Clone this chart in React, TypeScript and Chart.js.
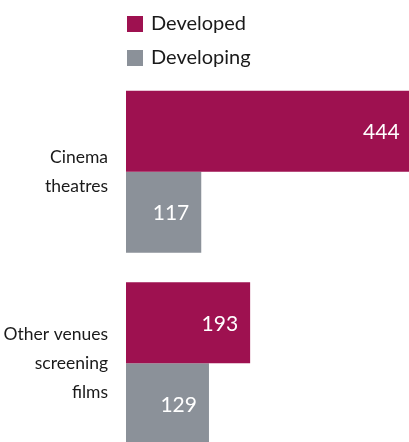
import { useEffect, useRef } from "react";
import { Chart, registerables } from "chart.js";

Chart.register(...registerables);

const categories: string[][] = [["Cinema", "theatres"], ["Other venues", "screening", "films"]];
const seriesNames = ["Developed", "Developing"];
const developed = [444, 193];
const developing = [117, 129];
const seriesColors = ["#9E1150", "#8B9199"];

const FONT = "Lato, 'Open Sans', sans-serif";

const legendPlugin = {
  id: "stackLegend",
  afterDraw(chart: any) {
    const ctx = chart.ctx;
    const left = chart.chartArea.left + 1;
    ctx.save();
    chart.data.datasets.forEach((ds: any, i: number) => {
      const y = 16 + i * 34;
      ctx.fillStyle = ds.backgroundColor;
      ctx.fillRect(left, y, 16, 16);
      ctx.fillStyle = "#1a1a1a";
      ctx.font = `20px ${FONT}`;
      ctx.textAlign = "left";
      ctx.textBaseline = "middle";
      ctx.fillText(ds.label, left + 24, y + 8);
    });
    ctx.restore();
  },
};

const valuePlugin = {
  id: "valueLabels",
  afterDatasetsDraw(chart: any) {
    const ctx = chart.ctx;
    ctx.save();
    ctx.font = `21px ${FONT}`;
    ctx.fillStyle = "#ffffff";
    ctx.textAlign = "right";
    ctx.textBaseline = "middle";
    chart.data.datasets.forEach((ds: any, di: number) => {
      const meta = chart.getDatasetMeta(di);
      meta.data.forEach((el: any, i: number) => {
        ctx.fillText(String(ds.data[i]), el.x - 12, el.y + 1);
      });
    });
    ctx.restore();
  },
};

export default function App() {
  const ref = useRef<HTMLCanvasElement>(null);
  useEffect(() => {
    if (!ref.current) return;
    const chart = new Chart(ref.current, {
      type: "bar",
      data: {
        labels: categories as any,
        datasets: [
          { label: seriesNames[0], data: developed, backgroundColor: seriesColors[0] },
          { label: seriesNames[1], data: developing, backgroundColor: seriesColors[1] },
        ],
      },
      options: {
        indexAxis: "y",
        responsive: false,
        maintainAspectRatio: false,
        animation: false,
        layout: { padding: { top: 76, left: 0, right: 0, bottom: 0 } },
        datasets: { bar: { categoryPercentage: 0.846, barPercentage: 1 } },
        plugins: { legend: { display: false }, tooltip: { enabled: false } },
        scales: {
          x: { display: false, min: 0, max: 440 },
          y: {
            grid: { display: false },
            border: { display: false },
            ticks: {
              padding: 10,
              color: "#1a1a1a",
              font: { family: FONT, size: 17.5, lineHeight: 1.66 },
            },
            afterFit(scale: any) {
              scale.width = 126;
              scale.paddingTop = 0;
              scale.paddingBottom = 0;
            },
          },
        },
      },
      plugins: [legendPlugin, valuePlugin],
    });
    return () => chart.destroy();
  }, []);
  return (
    <div style={{ position: "absolute", left: 0, top: 0, width: 409, height: 442, overflow: "hidden", background: "#fff" }}>
      <canvas ref={ref} width={409} height={459} style={{ display: "block" }} />
    </div>
  );
}
